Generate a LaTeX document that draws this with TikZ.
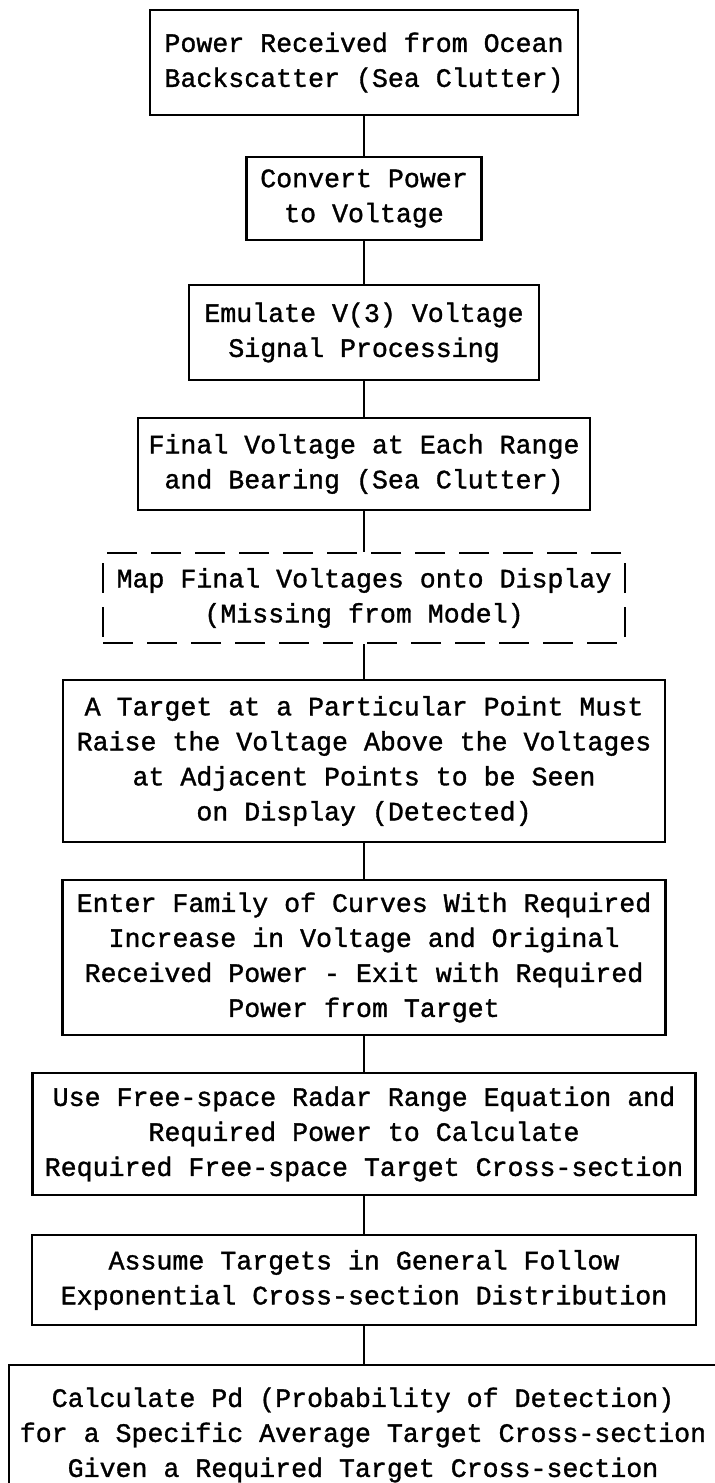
\documentclass[tikz,border=0pt]{standalone}
\usepackage{fontspec}
\setmonofont{Liberation Mono}[FakeBold=1.2]

\begin{document}
\begin{tikzpicture}[x=0.5pt, y=-0.5pt, line width=1.2pt,
  stage/.style={draw, rectangle, align=center, inner sep=3pt,
    font=\ttfamily\fontsize{13.3}{17.5}\selectfont},
  missing/.style={stage, dash pattern=on 15pt off 7pt}]
\useasboundingbox (0,0) rectangle (714,1483);
\node[stage, minimum width=214pt, minimum height=52.5pt] (power) at (364,62.5) {Power Received from Ocean\\Backscatter (Sea Clutter)};
\node[stage, minimum width=117.5pt, minimum height=41.5pt] (convert) at (364,198.5) {Convert Power\\to Voltage};
\node[stage, minimum width=175pt, minimum height=47.5pt] (emulate) at (364,332.5) {Emulate V(3) Voltage\\Signal Processing};
\node[stage, minimum width=226pt, minimum height=46pt] (final) at (364,464) {Final Voltage at Each Range\\and Bearing (Sea Clutter)};
\node[missing, minimum width=261pt, minimum height=45pt] (map) at (364,598) {Map Final Voltages onto Display\\(Missing from Model)};
\node[stage, minimum width=301pt, minimum height=81pt] (raise) at (364,761) {A Target at a Particular Point Must\\Raise the Voltage Above the Voltages\\at Adjacent Points to be Seen\\on Display (Detected)};
\node[stage, minimum width=301.5pt, minimum height=77.5pt] (curves) at (364,957.5) {Enter Family of Curves With Required\\Increase in Voltage and Original\\Received Power - Exit with Required\\Power from Target};
\node[stage, minimum width=331.5pt, minimum height=61pt] (radar) at (364,1134) {Use Free-space Radar Range Equation and\\Required Power to Calculate\\Required Free-space Target Cross-section};
\node[stage, minimum width=332pt, minimum height=45pt] (expo) at (364,1280) {Assume Targets in General Follow\\Exponential Cross-section Distribution};
\node[stage, minimum width=354pt, minimum height=70pt] (pd) at (363,1435) {Calculate Pd (Probability of Detection)\\for a Specific Average Target Cross-section\\Given a Required Target Cross-section};
\draw (power) -- (convert);
\draw (convert) -- (emulate);
\draw (emulate) -- (final);
\draw (final) -- (map);
\draw (map) -- (raise);
\draw (raise) -- (curves);
\draw (curves) -- (radar);
\draw (radar) -- (expo);
\draw (expo.south) -- (expo.south |- pd.north);
\end{tikzpicture}
\end{document}
